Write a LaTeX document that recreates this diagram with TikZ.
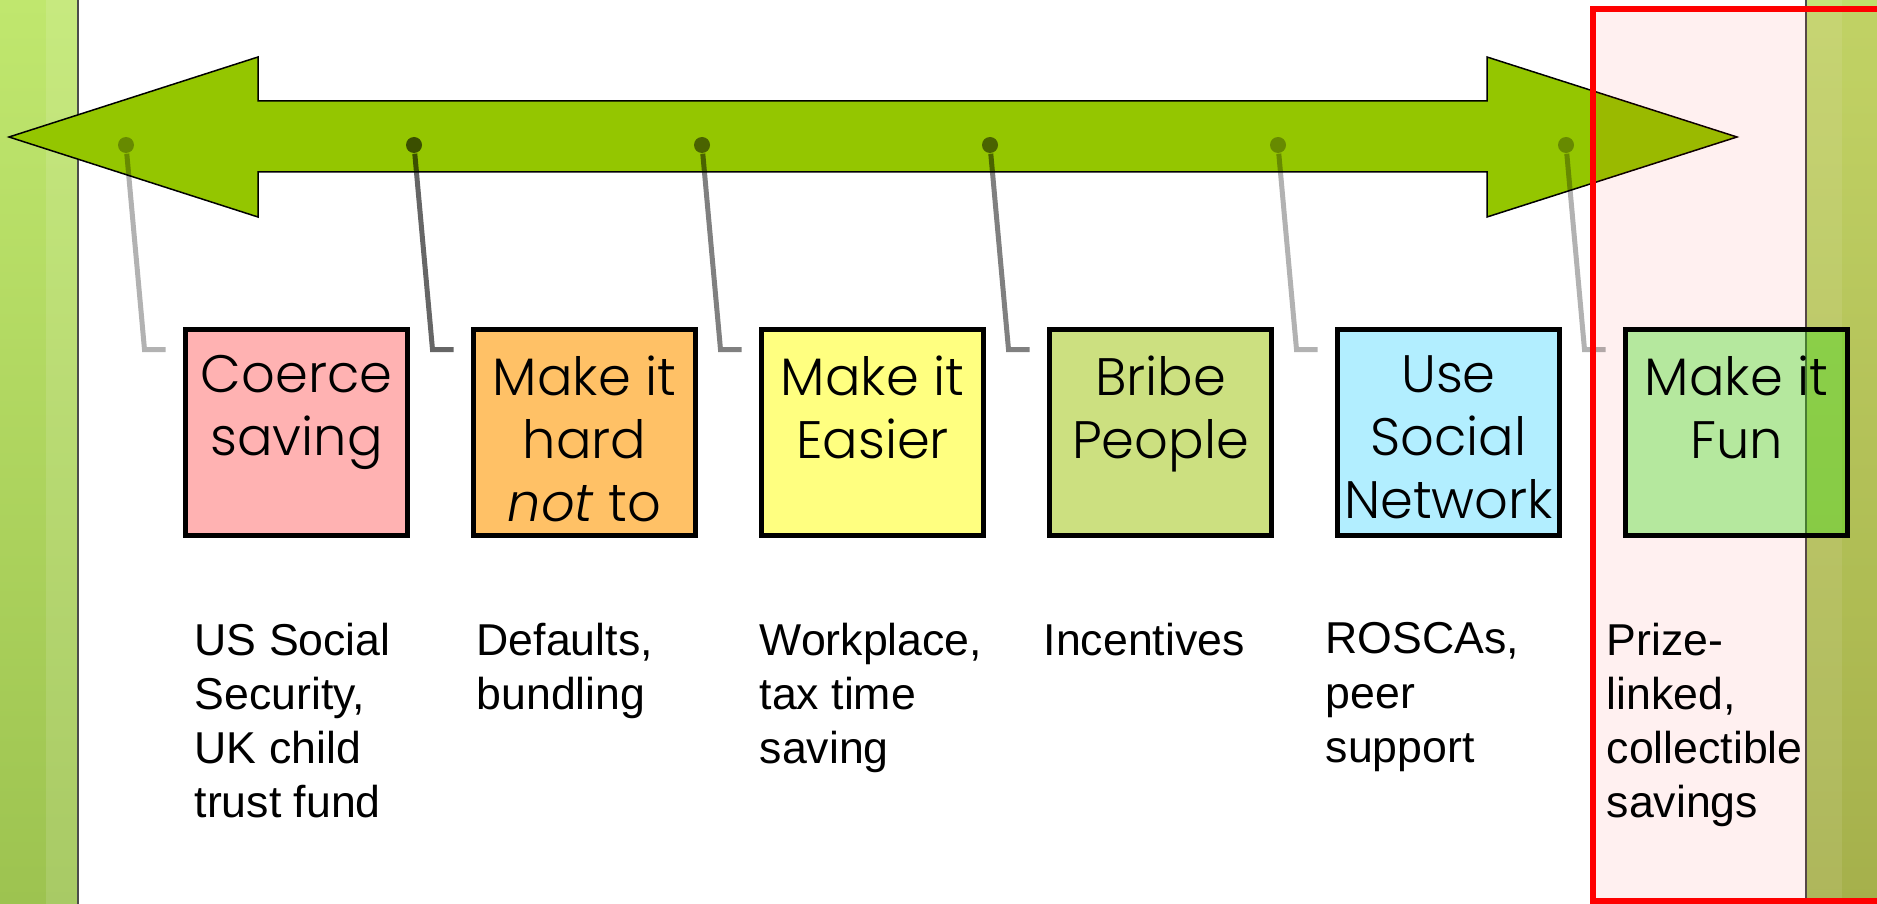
\documentclass[tikz,border=0pt]{standalone}
\usepackage{fontspec}
\setmainfont{Liberation Sans}
\IfFontExistsTF{Poppins Light}{\newfontfamily\gothic{Poppins Light}}{\newfontfamily\gothic{Poppins}}
\usetikzlibrary{positioning}

\definecolor{arrowgreen}{RGB}{148,198,0}
\definecolor{barlight}{RGB}{192,231,110}
\definecolor{bardark}{RGB}{157,195,80}
\definecolor{rbarlight}{RGB}{190,224,108}
\definecolor{rbardark}{RGB}{160,188,80}
\definecolor{coercefill}{RGB}{255,178,178}
\definecolor{hardfill}{RGB}{255,193,102}
\definecolor{easyfill}{RGB}{255,255,128}
\definecolor{bribefill}{RGB}{204,224,128}
\definecolor{socialfill}{RGB}{178,238,255}
\definecolor{funfill}{RGB}{50,219,14}

\tikzset{
  stepbox/.style={draw=black, line width=0.5mm, minimum width=22.2mm, minimum height=20.6mm, inner sep=0pt},
  boxtext/.style={font=\gothic\fontsize{15}{17.9}\selectfont, align=center, inner sep=0pt, anchor=north},
  notetext/.style={font=\fontsize{12.7}{15.4}\selectfont, align=left, inner sep=0pt, anchor=north west},
  lead/.style={line width=0.5mm, blend mode=multiply},
  knob/.style={circle, inner sep=0pt, minimum size=1.6mm, blend mode=multiply},
}

\begin{document}
\begin{tikzpicture}[x=1mm,y=-1mm]
  \useasboundingbox (0,0) rectangle (187.7,90.4);
  % side bars
  \shade[top color=barlight, bottom color=bardark] (0,0) rectangle (7.8,90.4);
  \fill[white, opacity=0.12] (4.6,0) rectangle (7.8,90.4);
  \draw[black!70, line width=0.2mm] (7.8,0) -- (7.8,90.4);
  \shade[top color=rbarlight, bottom color=rbardark] (180.6,0) rectangle (187.7,90.4);
  \fill[white, opacity=0.1] (180.6,0) rectangle (184.2,90.4);
  \draw[black!70, line width=0.2mm] (180.6,0) -- (180.6,90.4);
  % double arrow
  \draw[fill=arrowgreen, line width=0.15mm, line join=miter]
    (0.9,13.7) -- (25.8,5.7) -- (25.8,10.1) -- (148.7,10.1) -- (148.7,5.7)
    -- (173.7,13.7) -- (148.7,21.7) -- (148.7,17.2) -- (25.8,17.2) -- (25.8,21.7) -- cycle;
  % highlight behind the last step
  \fill[red, fill opacity=0.06] (159.3,0.9) rectangle (187.7,90.1);
  % steps
  \node[stepbox, fill=coercefill] (coerce) at (29.65,43.25) {};
  \node[stepbox, fill=hardfill] (hard) at (58.45,43.25) {};
  \node[stepbox, fill=easyfill] (easy) at (87.25,43.25) {};
  \node[stepbox, fill=bribefill] (bribe) at (116.05,43.25) {};
  \node[stepbox, fill=socialfill] (social) at (144.85,43.25) {};
  \node[stepbox, fill=funfill, fill opacity=0.36] (fun) at (173.65,43.25) {};
  \node[boxtext] (coercetext) at (29.65,35.5) {Coerce\\saving};
  \node[boxtext] (hardtext) at (58.45,35.5) {Make it\\hard\\\textit{not} to};
  \node[boxtext] (easytext) at (87.25,35.5) {Make it\\Easier};
  \node[boxtext] (bribetext) at (116.05,35.5) {Bribe\\People};
  \node[boxtext] (socialtext) at (144.85,35.5) {Use\\Social\\Network};
  \node[boxtext] (funtext) at (173.65,35.5) {Make it\\Fun};
  % markers on the arrow
  \node[knob, fill=black!30] (d1) at (12.6,14.5) {};
  \node[knob, fill=black!60] (d2) at (41.4,14.5) {};
  \node[knob, fill=black!50] (d3) at (70.2,14.5) {};
  \node[knob, fill=black!50] (d4) at (99.0,14.5) {};
  \node[knob, fill=black!30] (d5) at (127.8,14.5) {};
  \node[knob, fill=black!30] (d6) at (156.6,14.5) {};
  \draw[lead, black!30] (d1) -- ([shift={(-3.85,2.25)}]coerce.north west) -- ([shift={(-1.75,2.25)}]coerce.north west);
  \draw[lead, black!60] (d2) -- ([shift={(-3.85,2.25)}]hard.north west) -- ([shift={(-1.75,2.25)}]hard.north west);
  \draw[lead, black!50] (d3) -- ([shift={(-3.85,2.25)}]easy.north west) -- ([shift={(-1.75,2.25)}]easy.north west);
  \draw[lead, black!50] (d4) -- ([shift={(-3.85,2.25)}]bribe.north west) -- ([shift={(-1.75,2.25)}]bribe.north west);
  \draw[lead, black!30] (d5) -- ([shift={(-3.85,2.25)}]social.north west) -- ([shift={(-1.75,2.25)}]social.north west);
  \draw[lead, black!30] (d6) -- ([shift={(-3.85,2.25)}]fun.north west) -- ([shift={(-1.75,2.25)}]fun.north west);
  % examples under each step
  \node[notetext] (coercenote) at (19.4,62.2) {US Social\\Security,\\UK child\\trust fund};
  \node[notetext] (hardnote) at (47.6,62.2) {Defaults,\\bundling};
  \node[notetext] (easynote) at (75.9,62.2) {Workplace,\\tax time\\saving};
  \node[notetext] (bribenote) at (104.3,62.2) {Incentives};
  \node[notetext] (socialnote) at (132.5,62.2) {ROSCAs,\\peer\\support};
  \node[notetext] (funnote) at (160.6,62.2) {Prize-\\linked,\\collectible\\savings};
  \draw[red, line width=0.6mm] (159.3,0.9) rectangle (192,90.1);
\end{tikzpicture}
\end{document}
